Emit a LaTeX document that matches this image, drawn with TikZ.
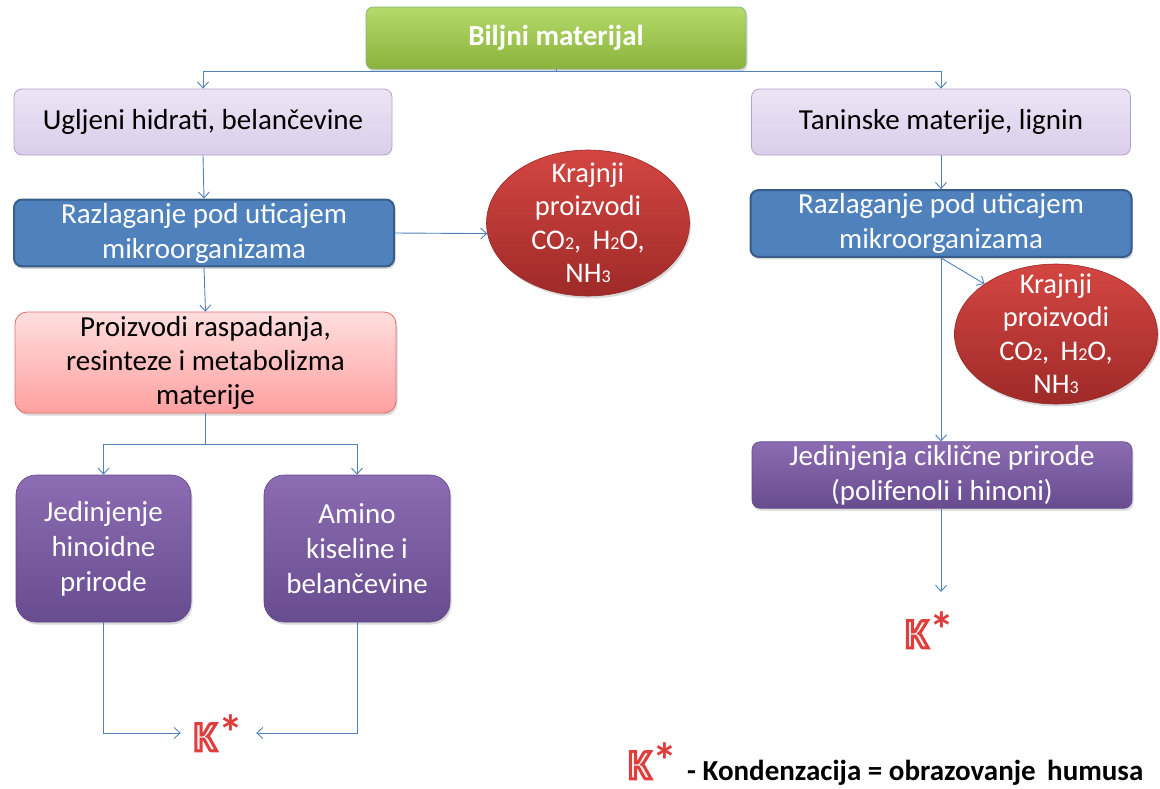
\documentclass[tikz,border=0pt]{standalone}
\usepackage{fontspec}
\setmainfont{Carlito}
\usetikzlibrary{arrows.meta,shapes.geometric,shadows}

\definecolor{conn}{HTML}{4F81BD}
\definecolor{blueFill}{HTML}{4F81BD}
\definecolor{blueLine}{HTML}{385D8A}
\definecolor{kred}{HTML}{E03C3C}

% small digits used in the chemical formulas
\newcommand{\sbs}[1]{{\fontsize{18}{18}\selectfont #1}}
% outlined letter: light fill with a red stroke (PDF text render mode 2)
\newcommand{\outl}[1]{\textcolor{gray!15}{\special{pdf:literal direct 0.88 0.24 0.24 RG 3 w 2 Tr}#1\special{pdf:literal direct 0 Tr}}}
% condensation mark: outlined K with a red star
\newcommand{\kmark}{{\fontsize{42}{42}\selectfont\bfseries\outl{K}\kern1.5pt\textcolor{kred}{\fontsize{50}{50}\selectfont *}}}

\begin{document}
\begin{tikzpicture}[x=1pt,y=-1pt,
  txt/.style={font=\fontsize{29}{35}\selectfont, align=center},
  shade/.style={drop shadow={shadow xshift=1.5pt,shadow yshift=-2.5pt,opacity=0.3}},
  greenbox/.style={txt, shade, rounded corners=7pt, draw=green!40!black!50, line width=0.6pt,
    top color={rgb,255:red,180;green,218;blue,106}, bottom color={rgb,255:red,139;green,178;blue,60},
    text=white, font=\fontsize{29}{35}\selectfont\bfseries},
  lilacbox/.style={txt, rounded corners=8pt, draw={rgb,255:red,180;green,160;blue,205}, line width=0.8pt,
    top color={rgb,255:red,236;green,229;blue,245}, bottom color={rgb,255:red,218;green,205;blue,234}},
  bluebox/.style={txt, shade, rounded corners=8pt, draw=blueLine, line width=2pt, fill=blueFill, text=white},
  pinkbox/.style={txt, shade, rounded corners=12pt, draw={rgb,255:red,224;green,110;blue,110}, line width=0.8pt,
    top color={rgb,255:red,255;green,222;blue,222}, bottom color={rgb,255:red,255;green,160;blue,160}},
  purplebox/.style={txt, shade, draw={rgb,255:red,100;green,72;blue,136}, line width=0.6pt,
    top color={rgb,255:red,140;green,108;blue,178}, bottom color={rgb,255:red,104;green,76;blue,144}, text=white},
  redell/.style={txt, shade, ellipse, inner xsep=0pt, inner ysep=-20pt, draw={rgb,255:red,150;green,40;blue,38}, line width=0.6pt,
    top color={rgb,255:red,212;green,70;blue,66}, bottom color={rgb,255:red,158;green,42;blue,40}, text=white,
    font=\fontsize{28.5}{33.5}\selectfont},
  arr/.style={draw=conn, line width=0.9pt, -{Straight Barb[length=6pt,width=11pt,line width=0.9pt]}},
  line/.style={draw=conn, line width=0.9pt}
]
\useasboundingbox (0,0) rectangle (1160,788);

% ---- nodes ----
\node[greenbox, minimum width=380pt, minimum height=62pt] (bilj) at (556,38) {Biljni materijal};

\node[lilacbox, minimum width=378pt, minimum height=66pt] (ugl) at (203,122) {Ugljeni hidrati, belančevine};
\node[lilacbox, minimum width=379pt, minimum height=66pt] (tan) at (941,122) {Taninske materije, lignin};

\node[bluebox, minimum width=380pt, minimum height=66pt] (raz1) at (204,233) {Razlaganje pod uticajem\\mikroorganizama};
\node[bluebox, minimum width=381pt, minimum height=65pt] (raz2) at (941,223.5) {Razlaganje pod uticajem\\mikroorganizama};

\node[redell, minimum width=203pt, minimum height=146pt] (ell1) at (588,223)
  {Krajnji\\proizvodi\\CO\sbs{2}, \,H\sbs{2}O,\\NH\sbs{3}};
\node[redell, minimum width=203pt, minimum height=140pt] (ell2) at (1056,334)
  {Krajnji\\proizvodi\\CO\sbs{2}, \,H\sbs{2}O,\\NH\sbs{3}};

\node[pinkbox, minimum width=381pt, minimum height=101pt, font=\fontsize{29}{34}\selectfont] (pro) at (205.5,362.5)
  {Proizvodi raspadanja,\\resinteze i metabolizma\\materije};

\node[purplebox, rounded corners=20pt, minimum width=175pt, minimum height=147pt] (jed) at (103.5,548.5)
  {Jedinjenje\\hinoidne\\prirode};
\node[purplebox, rounded corners=20pt, minimum width=186pt, minimum height=147pt] (ami) at (357,548.5)
  {Amino\\kiseline i\\belančevine};

\node[purplebox, rounded corners=8pt, minimum width=380pt, minimum height=64pt] (cik) at (942,475)
  {Jedinjenja ciklične prirode\\(polifenoli i hinoni)};

\node[inner sep=0pt, minimum width=75pt] (k1) at (218.5,733) {\kmark};
\node[inner sep=0pt] (k2) at (930,630) {\kmark};

\node[inner sep=0pt] (kl) at (653,761) {\kmark};
\node[anchor=west, inner sep=0pt, font=\fontsize{29}{30}\selectfont\bfseries] (leg) at (687,773)
  {- Kondenzacija = obrazovanje\, humusa};

% ---- connectors ----
\coordinate (split) at (556,71);
\draw[line] (bilj.south) -- (split);
\draw[arr] (split) -| (ugl.north);
\draw[arr] (split) -| (tan.north);

\draw[arr] (ugl.south) -- (raz1.north);
\draw[arr] (raz1.east) -- (ell1.186);
\draw[arr] (raz1.south) -- (pro.north);

\coordinate (fork) at (205.5,444);
\draw[line] (pro.south) -- (fork);
\draw[arr] (fork) -| (jed.north);
\draw[arr] (fork) -| (ami.north);

\draw[arr] (jed.south) |- (k1.west);
\draw[arr] (ami.south) |- (k1.east);

\draw[arr] (tan.south) -- (raz2.north);
\draw[arr] (raz2.south) -- (ell2.145);
\draw[arr] (raz2.south) -- (cik.north -| raz2.south);
\draw[arr, shorten >=20pt] (cik.south -| raz2.south) -- (k2.north -| raz2.south);
\end{tikzpicture}
\end{document}
